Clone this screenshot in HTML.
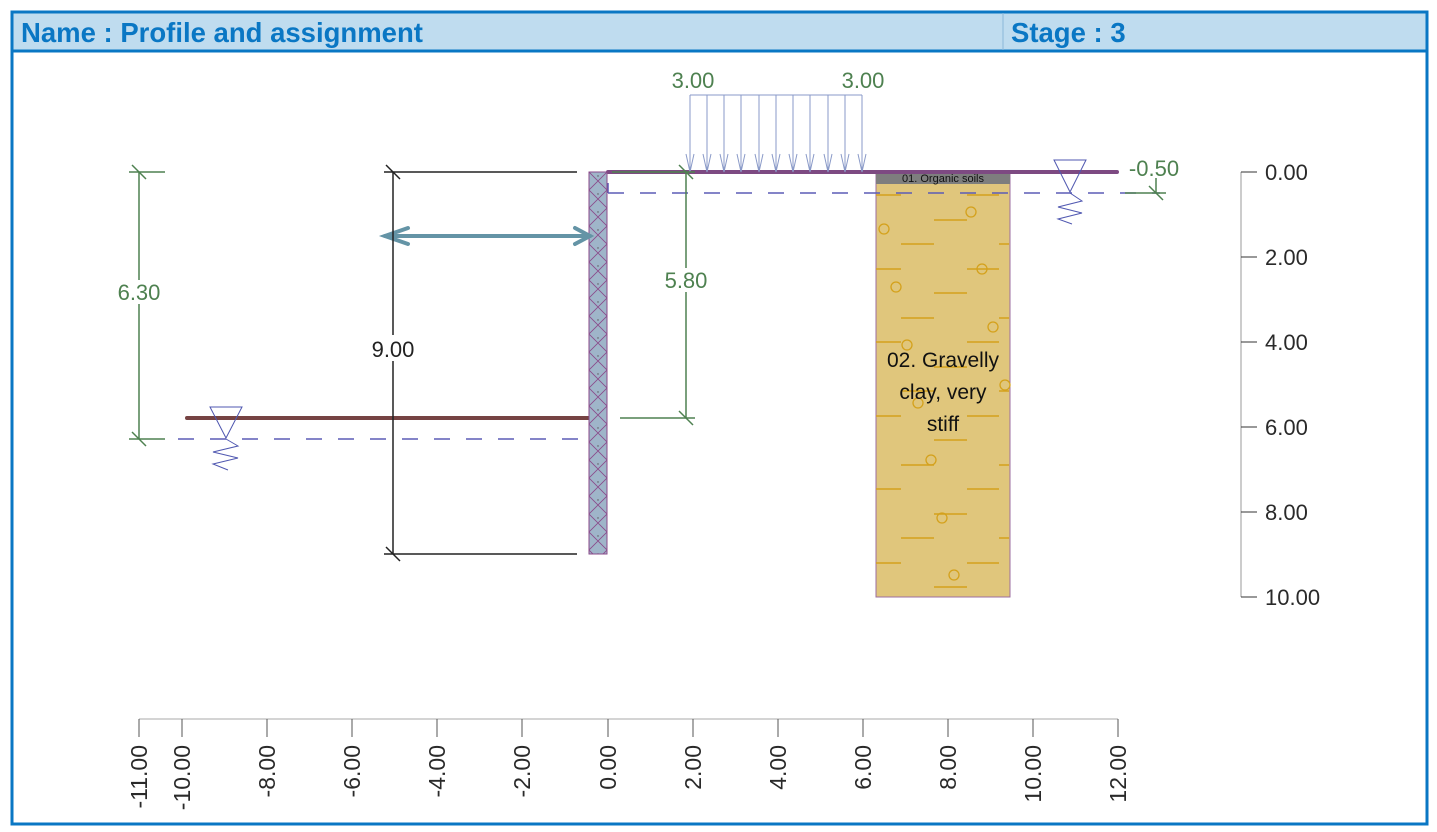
<!DOCTYPE html>
<html><head><meta charset="utf-8"><style>
html,body{margin:0;padding:0;background:#fff;}
svg{display:block;}
</style></head><body>
<svg width="1437" height="832" viewBox="0 0 1437 832" xmlns="http://www.w3.org/2000/svg" font-family="'Liberation Sans', sans-serif">
<defs>
<pattern id="hatch" width="18" height="18" patternUnits="userSpaceOnUse" x="589" y="172">
<rect width="18" height="18" fill="#9fb5c9"/>
<path d="M0 0L18 18M18 0L0 18" stroke="#8a4a8a" stroke-width="0.8"/>
<circle cx="9" cy="4" r="0.7" fill="#555"/>
</pattern>
</defs>
<rect x="0" y="0" width="1437" height="832" fill="#fff"/>
<rect x="12" y="13" width="1414" height="38" fill="#bfdcef"/>
<rect x="12" y="12" width="1415" height="812" fill="none" stroke="#0a77c4" stroke-width="3"/>
<line x1="12" y1="51" x2="1427" y2="51" stroke="#0a77c4" stroke-width="3"/>
<line x1="1003" y1="13" x2="1003" y2="50" stroke="#8bb7d8" stroke-width="1"/>
<text x="21" y="42" font-size="27.5" font-weight="bold" fill="#0a77c4">Name : Profile and assignment</text>
<text x="1011" y="42" font-size="27.5" font-weight="bold" fill="#0a77c4">Stage : 3</text>

<rect x="876" y="172" width="134" height="425" fill="#e0c67c" stroke="#9b6ea0" stroke-width="1"/>
<rect x="876" y="172" width="134" height="12" fill="#7e7e7e"/>
<text x="943" y="182" font-size="11" text-anchor="middle" fill="#111">01. Organic soils</text>
<g stroke="#d4a11c" stroke-width="1.5">
<line x1="876" y1="195" x2="901" y2="195"/><line x1="967" y1="195" x2="999" y2="195"/>
<line x1="934" y1="220" x2="967" y2="220"/>
<line x1="901" y1="244" x2="934" y2="244"/><line x1="999" y1="244" x2="1009" y2="244"/>
<line x1="876" y1="269" x2="901" y2="269"/><line x1="967" y1="269" x2="999" y2="269"/>
<line x1="934" y1="293" x2="967" y2="293"/>
<line x1="901" y1="318" x2="934" y2="318"/><line x1="999" y1="318" x2="1009" y2="318"/>
<line x1="876" y1="342" x2="901" y2="342"/><line x1="967" y1="342" x2="999" y2="342"/>
<line x1="934" y1="367" x2="967" y2="367"/>
<line x1="901" y1="391" x2="934" y2="391"/><line x1="999" y1="391" x2="1009" y2="391"/>
<line x1="876" y1="416" x2="901" y2="416"/><line x1="967" y1="416" x2="999" y2="416"/>
<line x1="934" y1="440" x2="967" y2="440"/>
<line x1="901" y1="465" x2="934" y2="465"/><line x1="999" y1="465" x2="1009" y2="465"/>
<line x1="876" y1="489" x2="901" y2="489"/><line x1="967" y1="489" x2="999" y2="489"/>
<line x1="934" y1="514" x2="967" y2="514"/>
<line x1="901" y1="538" x2="934" y2="538"/><line x1="999" y1="538" x2="1009" y2="538"/>
<line x1="876" y1="563" x2="901" y2="563"/><line x1="967" y1="563" x2="999" y2="563"/>
<line x1="934" y1="587" x2="967" y2="587"/>
</g>
<g fill="none" stroke="#d4a11c" stroke-width="1.3">
<circle cx="884" cy="229" r="5"/><circle cx="971" cy="212" r="5"/><circle cx="982" cy="269" r="5"/>
<circle cx="896" cy="287" r="5"/><circle cx="993" cy="327" r="5"/><circle cx="907" cy="345" r="5"/>
<circle cx="1005" cy="385" r="5"/><circle cx="918" cy="403" r="5"/><circle cx="931" cy="460" r="5"/>
<circle cx="942" cy="518" r="5"/><circle cx="954" cy="575" r="5"/>
</g>
<text font-size="21" fill="#111" text-anchor="middle"><tspan x="943" y="367">02. Gravelly</tspan><tspan x="943" y="399">clay, very</tspan><tspan x="943" y="431">stiff</tspan></text>

<line x1="608" y1="172" x2="1117" y2="172" stroke="#7d4a82" stroke-width="4" stroke-linecap="round"/>
<line x1="187" y1="418" x2="589" y2="418" stroke="#764343" stroke-width="4" stroke-linecap="round"/>
<line x1="608" y1="193" x2="1160" y2="193" stroke="#5b5bb5" stroke-width="1.5" stroke-dasharray="16,16"/>
<line x1="178" y1="439" x2="589" y2="439" stroke="#5b5bb5" stroke-width="1.5" stroke-dasharray="16,16"/>
<line x1="608" y1="183" x2="608" y2="193" stroke="#5b5bb5" stroke-width="1.5"/>
<g fill="none" stroke="#4f57b0" stroke-width="1">
<path d="M1054 160L1086 160L1070 192Z"/><path d="M1070 193L1082 201L1058 207L1082 213L1058 219L1072 224"/>
<path d="M210 407L242 407L226 438Z"/><path d="M226 439L238 446L213 452L238 458L213 464L228 470"/>
</g>

<rect x="589" y="172" width="18" height="382" fill="url(#hatch)" stroke="#8a4a8a" stroke-width="1"/>

<g stroke="#6494a6" stroke-width="4" stroke-linecap="round" fill="none">
<line x1="385" y1="236" x2="590" y2="236"/>
<path d="M408 228L385 236L408 244"/><path d="M575 228L590 236L575 244"/>
</g>

<g stroke="#8a9ac8" stroke-width="1" fill="none">
<line x1="690" y1="95" x2="862" y2="95"/>
<path d="M690 95V172M707 95V172M724 95V172M741 95V172M759 95V172M776 95V172M793 95V172M810 95V172M828 95V172M845 95V172M862 95V172"/>
<path d="M686 154L690 172L694 154M703 154L707 172L711 154M720 154L724 172L728 154M737 154L741 172L745 154M755 154L759 172L763 154M772 154L776 172L780 154M789 154L793 172L797 154M806 154L810 172L814 154M824 154L828 172L832 154M841 154L845 172L849 154M858 154L862 172L866 154"/>
</g>
<text x="693" y="88" font-size="22" fill="#4e8150" text-anchor="middle">3.00</text>
<text x="863" y="88" font-size="22" fill="#4e8150" text-anchor="middle">3.00</text>

<g stroke="#222" stroke-width="1.5">
<line x1="393" y1="172" x2="393" y2="554"/>
<line x1="384" y1="172" x2="577" y2="172"/><line x1="384" y1="554" x2="577" y2="554"/>
<line x1="386" y1="165" x2="400" y2="179"/><line x1="386" y1="547" x2="400" y2="561"/>
</g>
<rect x="372" y="335" width="42" height="26" fill="#fff"/>
<text x="393" y="357" font-size="22" fill="#222" text-anchor="middle">9.00</text>

<g stroke="#4e8150" stroke-width="1.5">
<line x1="139" y1="172" x2="139" y2="439"/>
<line x1="129" y1="172" x2="165" y2="172"/><line x1="129" y1="439" x2="165" y2="439"/>
<line x1="132" y1="165" x2="146" y2="179"/><line x1="132" y1="432" x2="146" y2="446"/>
</g>
<rect x="116" y="280" width="46" height="24" fill="#fff"/>
<text x="139" y="300" font-size="22" fill="#4e8150" text-anchor="middle">6.30</text>

<g stroke="#4e8150" stroke-width="1.5">
<line x1="686" y1="172" x2="686" y2="418"/>
<line x1="620" y1="418" x2="695" y2="418"/><line x1="612" y1="172" x2="695" y2="172"/>
<line x1="679" y1="165" x2="693" y2="179"/><line x1="679" y1="411" x2="693" y2="425"/>
</g>
<rect x="664" y="268" width="44" height="24" fill="#fff"/>
<text x="686" y="288" font-size="22" fill="#4e8150" text-anchor="middle">5.80</text>

<g stroke="#4e8150" stroke-width="1.5">
<line x1="1125" y1="193" x2="1166" y2="193"/><line x1="1156" y1="178" x2="1156" y2="193"/>
<line x1="1149" y1="186" x2="1163" y2="200"/>
</g>
<text x="1154" y="176" font-size="22" fill="#4e8150" text-anchor="middle">-0.50</text>

<g stroke="#999" stroke-width="1"><line x1="1241" y1="172" x2="1241" y2="597"/></g>
<g stroke="#333" stroke-width="1">
<line x1="1241" y1="172" x2="1257" y2="172"/><line x1="1241" y1="257" x2="1257" y2="257"/><line x1="1241" y1="342" x2="1257" y2="342"/><line x1="1241" y1="427" x2="1257" y2="427"/><line x1="1241" y1="512" x2="1257" y2="512"/><line x1="1241" y1="597" x2="1257" y2="597"/>
</g>
<g font-size="22" fill="#2a2a2a">
<text x="1265" y="180">0.00</text><text x="1265" y="265">2.00</text><text x="1265" y="350">4.00</text><text x="1265" y="435">6.00</text><text x="1265" y="520">8.00</text><text x="1265" y="605">10.00</text>
</g>

<line x1="139" y1="719" x2="1118" y2="719" stroke="#aaa" stroke-width="1"/>
<g stroke="#555" stroke-width="1">
<line x1="139" y1="719" x2="139" y2="737"/><line x1="182" y1="719" x2="182" y2="737"/><line x1="267" y1="719" x2="267" y2="737"/><line x1="352" y1="719" x2="352" y2="737"/><line x1="437" y1="719" x2="437" y2="737"/><line x1="522" y1="719" x2="522" y2="737"/><line x1="608" y1="719" x2="608" y2="737"/><line x1="693" y1="719" x2="693" y2="737"/><line x1="778" y1="719" x2="778" y2="737"/><line x1="863" y1="719" x2="863" y2="737"/><line x1="948" y1="719" x2="948" y2="737"/><line x1="1033" y1="719" x2="1033" y2="737"/><line x1="1118" y1="719" x2="1118" y2="737"/>
</g>
<g font-size="23" fill="#2a2a2a" text-anchor="end">
<text transform="translate(147,745) rotate(-90)">-11.00</text>
<text transform="translate(190,745) rotate(-90)">-10.00</text>
<text transform="translate(275,745) rotate(-90)">-8.00</text>
<text transform="translate(360,745) rotate(-90)">-6.00</text>
<text transform="translate(445,745) rotate(-90)">-4.00</text>
<text transform="translate(530,745) rotate(-90)">-2.00</text>
<text transform="translate(616,745) rotate(-90)">0.00</text>
<text transform="translate(701,745) rotate(-90)">2.00</text>
<text transform="translate(786,745) rotate(-90)">4.00</text>
<text transform="translate(871,745) rotate(-90)">6.00</text>
<text transform="translate(956,745) rotate(-90)">8.00</text>
<text transform="translate(1041,745) rotate(-90)">10.00</text>
<text transform="translate(1126,745) rotate(-90)">12.00</text>
</g>
</svg>
</body></html>
